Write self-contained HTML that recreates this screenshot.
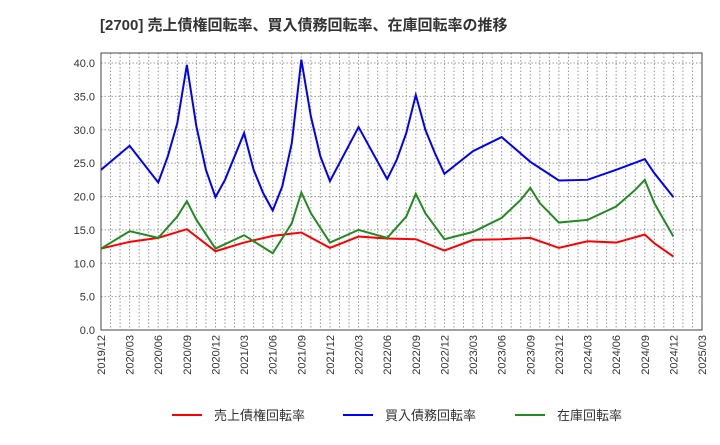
<!DOCTYPE html>
<html><head><meta charset="utf-8"><style>
body{margin:0;background:#fff;font-family:"Liberation Sans","Noto Sans CJK JP",sans-serif}
</style></head><body>
<svg width="720" height="440" id="c" font-family="Liberation Sans, Noto Sans CJK JP, sans-serif">
<text x="100" y="30" font-size="15" font-weight="bold" fill="#333">[2700]  売上債権回転率、買入債務回転率、在庫回転率の推移</text>
</svg>
<script>
const xLabels=["2019/12","2020/03","2020/06","2020/09","2020/12","2021/03","2021/06","2021/09","2021/12","2022/03","2022/06","2022/09","2022/12","2023/03","2023/06","2023/09","2023/12","2024/03","2024/06","2024/09","2024/12","2025/03"];
const yTicks=[0,5,10,15,20,25,30,35,40];
const redMonths=[0,3,6,9,12,15,18,21,24,27,30,33,36,39,42,45,48,51,54,57,58,60];
const redValues=[12.2,13.2,13.8,15.1,11.8,13.1,14.1,14.6,12.3,14.0,13.7,13.6,11.9,13.5,13.6,13.8,12.3,13.3,13.1,14.3,13.0,11.0];
const blueMonths=[0,3,6,7,8,9,10,11,12,13,15,16,17,18,19,20,21,22,23,24,27,30,31,32,33,34,35,36,39,42,45,48,51,54,57,58,60];
const blueValues=[24.0,27.6,22.1,26.0,31.0,39.7,30.5,24.0,19.9,22.5,29.5,24.0,20.5,17.9,21.5,28.0,40.5,32.0,26.0,22.3,30.4,22.6,25.5,29.5,35.2,30.0,26.5,23.4,26.8,28.9,25.2,22.4,22.5,24.0,25.6,23.5,19.9];
const greenMonths=[0,3,6,8,9,10,12,15,18,20,21,22,24,27,30,32,33,34,36,39,42,44,45,46,48,51,54,56,57,58,60];
const greenValues=[12.2,14.8,13.8,17.0,19.3,16.5,12.2,14.2,11.5,16.0,20.6,17.5,13.1,15.0,13.8,17.0,20.4,17.5,13.6,14.7,16.8,19.5,21.3,19.0,16.1,16.5,18.5,21.0,22.5,19.0,14.0];
const L=101,R=702,T=53,B=330;
const X=m=>L+m*(R-L)/63;
const Y=v=>B-v*(B-63)/40;
const svg=document.getElementById('c');
const NS='http://www.w3.org/2000/svg';
function mk(t,a){const e=document.createElementNS(NS,t);for(const k in a)e.setAttribute(k,a[k]);svg.appendChild(e);return e;}
for(let m=1;m<63;m++){const g=mk('line',{x1:X(m),x2:X(m),y1:T,y2:B,stroke:'#999','stroke-dasharray':'1.5,2','stroke-width':1});

}
yTicks.forEach(v=>{const g=mk('line',{x1:L,x2:R,y1:Y(v),y2:Y(v),stroke:'#999','stroke-dasharray':'1.5,2','stroke-width':1});


const t=mk('text',{x:L-6,y:Y(v)+4,'font-size':11,'text-anchor':'end',fill:'#333'});t.textContent=v.toFixed(1);

});
xLabels.forEach((s,i)=>{const x=X(i*3);const t=mk('text',{x:0,y:0,'font-size':11,'text-anchor':'end',fill:'#333',transform:`translate(${x+4},${B+5}) rotate(-90)`});t.textContent=s;

});
const fr=mk('rect',{x:L,y:T,width:R-L,height:B-T,fill:'none',stroke:'#444','stroke-width':1});


function series(ms,vs,c,n){const p=mk('polyline',{points:ms.map((m,i)=>X(m)+','+Y(vs[i])).join(' '),fill:'none',stroke:c,'stroke-width':2});

}
series(redMonths,redValues,'#ff0000','series-receivables-turnover');
series(blueMonths,blueValues,'#0000ff','series-payables-turnover');
series(greenMonths,greenValues,'#228b22','series-inventory-turnover');
[[172,'#ff0000','売上債権回転率','legend-receivables'],[343,'#0000ff','買入債務回転率','legend-payables'],[515,'#228b22','在庫回転率','legend-inventory']].forEach(a=>{
const l=mk('line',{x1:a[0],x2:a[0]+30,y1:415,y2:415,stroke:a[1],'stroke-width':2});


const t=mk('text',{x:a[0]+42,y:420,'font-size':13,fill:'#333'});t.textContent=a[2];

});
</script>
</body></html>
